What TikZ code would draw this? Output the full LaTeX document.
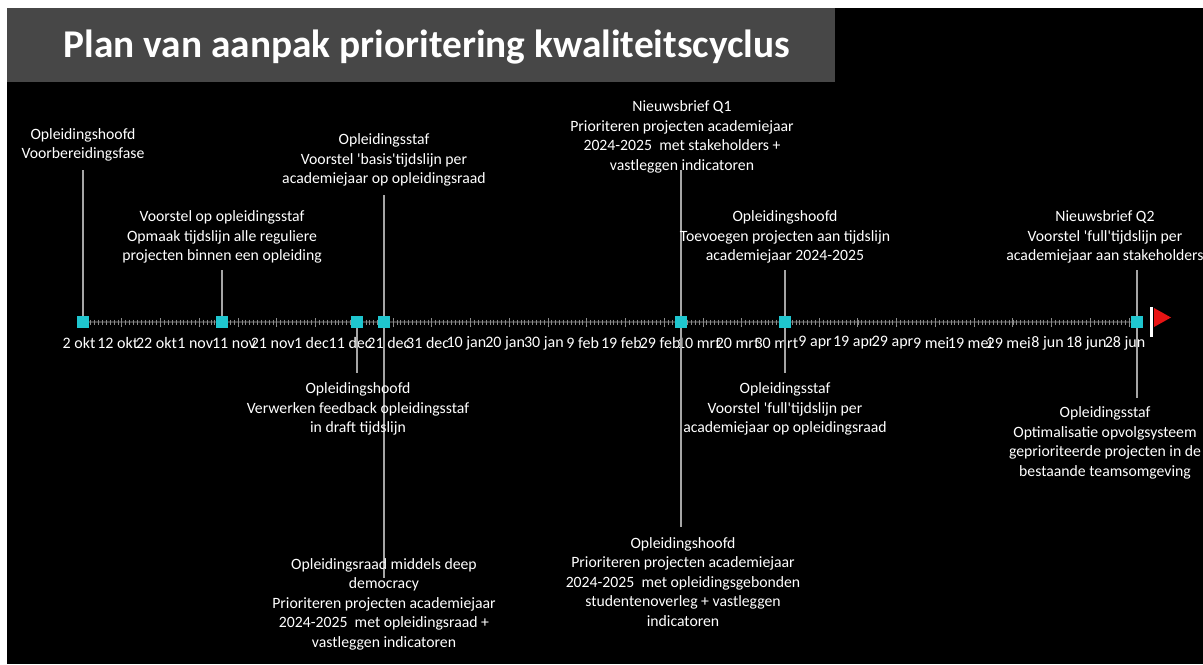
\documentclass[tikz,border=0pt]{standalone}
\usepackage{fontspec}
\setmainfont{Carlito}

\definecolor{titelgrijs}{HTML}{474747}
\definecolor{turkoois}{HTML}{1FC6CF}
\definecolor{lijngrijs}{HTML}{A6A6A6}
\definecolor{asgrijs}{HTML}{3C3C3C}
\definecolor{streepgrijs}{HTML}{8C8C8C}
\definecolor{vlagrood}{HTML}{E81414}

\begin{document}
\begin{tikzpicture}[x=0.75pt,y=-0.75pt,
    mijlpaal/.style={fill=turkoois, minimum size=8.25pt, inner sep=0pt},
    tekst/.style={text=white, align=center, inner sep=0pt,
        font=\fontsize{11.8}{14.6}\selectfont},
    datum/.style={text=white, inner sep=0pt, font=\fontsize{12}{13}\selectfont},
    verbinding/.style={lijngrijs, line width=1.2pt}
]

            %---------------- ACHTERGROND ----------------
            \useasboundingbox (0,0) rectangle (1203,664);
            \clip (0,0) rectangle (1203,664);
            \fill[white] (0,0) rectangle (1203,664);
            \fill[black] (7,8) rectangle (1203,664);

            %---------------- TITEL ----------------
            \fill[titelgrijs] (7,8) rectangle (835,82);
            \node[text=white, font=\fontsize{29.5}{34}\selectfont\bfseries]
            (titel) at (427,47) {Plan van aanpak prioritering kwaliteitscyclus};

            %---------------- TIJDLIJN ----------------
            \draw[asgrijs, line width=1pt] (83,322) -- (1135,322);

            \foreach \d in {0,...,270}
                \draw[streepgrijs, line width=0.4pt] (83+3.874*\d,319.5) -- ++(0,5);

            \foreach \k in {0,...,27}
                \draw[streepgrijs, line width=0.5pt] (83+38.74*\k,318) -- ++(0,8.5);

            %---------------- DATUMS ----------------
            \foreach \dag [count=\i from 0] in {2 okt,12 okt,22 okt,1 nov,11 nov,
                21 nov,1 dec,11 dec,21 dec,31 dec,10 jan,20 jan,30 jan,9 feb,
                19 feb,29 feb,10 mrt,20 mrt,30 mrt,9 apr,19 apr,29 apr,9 mei,
                19 mei,29 mei,8 jun,18 jun,28 jun}
                \node[datum] (d\i) at (79+38.74*\i,343) {\dag};

            %---------------- MIJLPALEN ----------------
            \node[mijlpaal] (m1) at (83,322) {};
            \node[mijlpaal] (m2) at (222,322) {};
            \node[mijlpaal] (m3) at (357,322) {};
            \node[mijlpaal] (m4) at (384,322) {};
            \node[mijlpaal] (m5) at (681,322) {};
            \node[mijlpaal] (m6) at (785,322) {};
            \node[mijlpaal] (m7) at (1137,322) {};

            % uiteinden van de verbindingslijnen
            \coordinate (e1) at (83,170);
            \coordinate (e2) at (222,270);
            \coordinate (e3) at (357,373);
            \coordinate (e4a) at (384,195);
            \coordinate (e4b) at (384,578);
            \coordinate (e5a) at (681,170);
            \coordinate (e5b) at (681,527);
            \coordinate (e6a) at (785,270);
            \coordinate (e6b) at (785,373);
            \coordinate (e7a) at (1137,270);
            \coordinate (e7b) at (1137,398);

            \draw[verbinding] (e1) -- (m1.center);
            \draw[verbinding] (e2) -- (m2.center);
            \draw[verbinding] (m3.center) -- (e3);
            \draw[verbinding] (e4a) -- (m4.center) -- (e4b);
            \draw[verbinding] (e5a) -- (m5.center) -- (e5b);
            \draw[verbinding] (e6a) -- (m6.center) -- (e6b);
            \draw[verbinding] (e7a) -- (m7.center) -- (e7b);

            % markeringen opnieuw bovenop de lijnen
            \foreach \m in {m1,m2,m3,m4,m5,m6,m7}
                \fill[turkoois] (\m.south west) rectangle (\m.north east);

            %---------------- BESCHRIJVINGEN ----------------
            \node[tekst] (t1) at (83,145)
            {Opleidingshoofd\\Voorbereidingsfase};

            \node[tekst] (t2) at (222,237)
            {Voorstel op opleidingsstaf\\Opmaak tijdslijn alle reguliere\\
             projecten binnen een opleiding};

            \node[tekst] (t3) at (358,409)
            {Opleidingshoofd\\Verwerken feedback opleidingsstaf\\in draft tijdslijn};

            \node[tekst] (t4a) at (384,160)
            {Opleidingsstaf\\Voorstel \textquotesingle basis\textquotesingle tijdslijn per\\
             academiejaar op opleidingsraad};

            \node[tekst] (t4b) at (384,604)
            {Opleidingsraad middels deep\\democracy\\
             Prioriteren projecten academiejaar\\
             2024-2025\ \ met opleidingsraad +\\vastleggen indicatoren};

            \node[tekst] (t5a) at (682,137)
            {Nieuwsbrief Q1\\Prioriteren projecten academiejaar\\
             2024-2025\ \ met stakeholders +\\vastleggen indicatoren};

            \node[tekst] (t5b) at (683,582)
            {Opleidingshoofd\\Prioriteren projecten academiejaar\\
             2024-2025\ \ met opleidingsgebonden\\studentenoverleg + vastleggen\\
             indicatoren};

            \node[tekst] (t6a) at (785,237)
            {Opleidingshoofd\\Toevoegen projecten aan tijdslijn\\
             academiejaar 2024-2025};

            \node[tekst] (t6b) at (785,409)
            {Opleidingsstaf\\Voorstel \textquotesingle full\textquotesingle tijdslijn per\\
             academiejaar op opleidingsraad};

            \node[tekst] (t7a) at (1105,237)
            {Nieuwsbrief Q2\\Voorstel \textquotesingle full\textquotesingle tijdslijn per\\
             academiejaar aan stakeholders};

            \node[tekst] (t7b) at (1105,443)
            {Opleidingsstaf\\Optimalisatie opvolgsysteem\\
             geprioriteerde projecten in de\\bestaande teamsomgeving};

            %---------------- VLAG ----------------
            \fill[white] (1149.5,307) rectangle (1152.5,337);
            \fill[vlagrood] (1154,308) -- (1171,317.5) -- (1154,327) -- cycle;

        \end{tikzpicture}
\end{document}
